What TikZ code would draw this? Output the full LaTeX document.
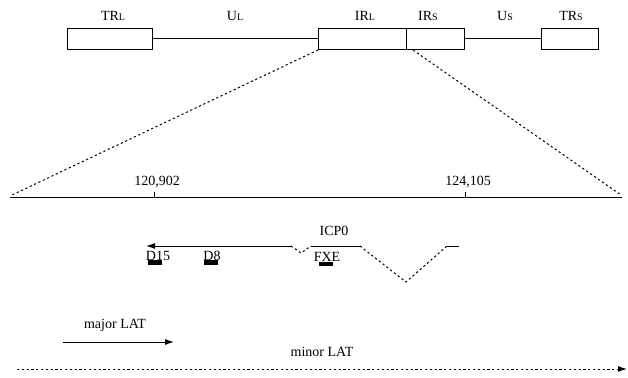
\documentclass[tikz,border=0pt]{standalone}
\usepackage{fontspec}
\setmainfont{Liberation Serif}
\usetikzlibrary{arrows.meta,positioning,calc}
\newcommand{\regLab}[2]{#1{\fontsize{10}{11}\selectfont #2}}
\tikzset{
  regBox/.style={draw, line width=1pt, minimum height=21pt, inner sep=0pt, anchor=north west},
  regLabel/.style={font=\fontsize{14}{16}\selectfont, inner sep=1pt},
  zoomLine/.style={line width=1pt, dash pattern=on 2.2pt off 2.6pt},
  exonBar/.style={fill=black, minimum width=14pt, minimum height=4.5pt, inner sep=0pt},
  latArrow/.style={-{Latex[length=9pt,width=6pt]}, line width=1pt}
}
\begin{document}
\begin{tikzpicture}[x=1pt,y=-1pt]
  \useasboundingbox (0,0) rectangle (628,377);
  % genome overview
  \node[regBox, minimum width=85pt] (TRl) at (67,28) {};
  \node[regBox, minimum width=88pt] (IRl) at (318,28) {};
  \node[regBox, minimum width=58pt] (IRs) at (406,28) {};
  \node[regBox, minimum width=57pt] (TRs) at (541,28) {};
  \draw[line width=1pt] (TRl.east) -- (IRl.west);
  \draw[line width=1pt] (IRs.east) -- (TRs.west);
  \node[regLabel] (labTRl) at (113,16) {\regLab{TR}{L}};
  \node[regLabel] (labUl) at (235,16) {\regLab{U}{L}};
  \node[regLabel] (labIRl) at (365,16) {\regLab{IR}{L}};
  \node[regLabel] (labIRs) at (428,16) {\regLab{IR}{S}};
  \node[regLabel] (labUs) at (505,16) {\regLab{U}{S}};
  \node[regLabel] (labTRs) at (571,16) {\regLab{TR}{S}};
  % expanded region
  \coordinate (zoomR) at (413,50);
  \coordinate (axL) at (10,197);
  \coordinate (axR) at (622,197);
  \draw[zoomLine] (IRl.south west) -- ($(axL)+(2,-2)$);
  \draw[zoomLine] (zoomR) -- ($(axR)+(-1,-2)$);
  \draw[line width=1pt] (axL) -- (axR);
  \foreach \x/\lab/\nm in {154/{120,902}/tkA,465/{124,105}/tkB} {
    \draw[line width=1pt] (\x,192) -- (\x,197);
    \node[regLabel] (\nm) at (\x+3,182) {\lab};
  }
  % ICP0 transcript
  \coordinate (icA) at (146,246);
  \coordinate (icB) at (291,246);
  \coordinate (icC) at (301,253);
  \coordinate (icD) at (311,246);
  \coordinate (icE) at (360,246);
  \coordinate (icF) at (406,282);
  \coordinate (icG) at (447,246);
  \coordinate (icH) at (459,246);
  \draw[latArrow] (icB) -- (icA);
  \draw[zoomLine] (icB) -- (icC) -- (icD);
  \draw[line width=1pt] (icD) -- (icE);
  \draw[zoomLine] (icE) -- (icF) -- (icG);
  \draw[line width=1pt] (icG) -- (icH);
  \node[regLabel] (labICP) at (334,231) {ICP0};
  \node[regLabel] (labD15) at (158,256) {D15};
  \node[regLabel] (labD8) at (212,256) {D8};
  \node[regLabel] (labFXE) at (327,257) {FXE};
  \node[exonBar] (barD15) at (155,262.5) {};
  \node[exonBar] (barD8) at (211,262.5) {};
  \node[exonBar] (barFXE) at (326,264) {};
  % latency transcripts
  \coordinate (majA) at (63,342);
  \coordinate (majB) at (174,342);
  \draw[latArrow] (majA) -- (majB);
  \node[regLabel] (labMaj) at (115,325) {major LAT};
  \coordinate (minA) at (17,369);
  \coordinate (minB) at (627,369);
  \draw[latArrow, dash pattern=on 2.2pt off 2.6pt] (minA) -- (minB);
  \node[regLabel] (labMin) at (322,352) {minor LAT};
\end{tikzpicture}
\end{document}
